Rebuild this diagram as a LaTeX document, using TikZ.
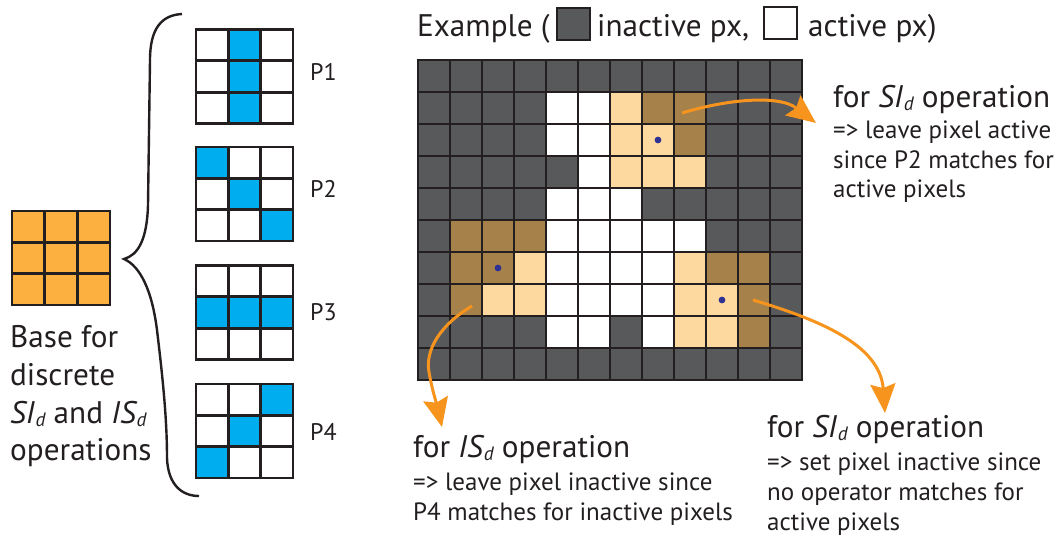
\documentclass[tikz,border=0pt]{standalone}
\usepackage{fontspec}
\setmainfont{PT Sans}
\usetikzlibrary{arrows.meta}

\definecolor{ink}{HTML}{231F20}
\definecolor{cD}{HTML}{58595B}
\definecolor{cW}{HTML}{FFFFFF}
\definecolor{cB}{HTML}{A6824A}
\definecolor{cL}{HTML}{FDD9A0}
\definecolor{baseor}{HTML}{FBB040}
\definecolor{patblue}{HTML}{00AEEF}
\definecolor{arrowor}{HTML}{F7941D}
\definecolor{dotblue}{HTML}{2E3192}

% italic operator name with a small lowered italic index
\newcommand\opsym[2]{\textit{#1\kern0.03em\raisebox{-0.12em}{\scalebox{0.62}{#2}}}}

\tikzset{
  gridline/.style={draw=ink, line width=2.8pt},
  bigtext/.style={anchor=base west, inner sep=0pt, font=\fontsize{31.2}{38}\selectfont, text=ink},
  smalltext/.style={anchor=base west, inner sep=0pt, font=\fontsize{25}{30}\selectfont, text=ink},
  plabel/.style={anchor=base west, inner sep=0pt, font=\fontsize{24}{30}\selectfont, text=ink},
  flow/.style={draw=arrowor, line width=3pt, -{Stealth[length=29pt,width=25pt,inset=4pt]}},
  pivot/.style={fill=dotblue},
  bracestroke/.style={draw=ink, line width=2.4pt},
}

% 3x3 pattern: #1 = top edge, #2 = blue cells as col/row
\newcommand\patgrid[2]{%
  \foreach \pc/\pr in {#2}
    \fill[patblue] (196+32.33*\pc, #1+31.33*\pr) rectangle ++(32.33,31.33);
  \foreach \pi in {1,2} {
    \draw[gridline] (196+32.33*\pi, #1) -- ++(0,94);
    \draw[gridline] (196, #1+31.33*\pi) -- ++(97,0);
  }
  \draw[gridline] (196,#1) rectangle ++(97,94);
}

\begin{document}
\begin{tikzpicture}[x=1pt,y=-1pt]
\fill[white] (0,0) rectangle (1062,539);
\useasboundingbox (0,0) rectangle (1062,539);

% ---- base 3x3 window ----
\fill[baseor] (12,211) rectangle (110,305);
\foreach \i in {1,2} {
  \draw[gridline] (12+32.67*\i,211) -- (12+32.67*\i,305);
  \draw[gridline] (12,211+31.33*\i) -- (110,211+31.33*\i);
}
\draw[gridline] (12,211) rectangle (110,305);

\node[bigtext] (base1) at (10,347) {Base for};
\node[bigtext] (base2) at (10,385) {discrete};
\node[bigtext] (base3) at (10,423) {\opsym{SI}{d} and \opsym{IS}{d}};
\node[bigtext] (base4) at (10,460) {operations};

% ---- brace ----
\draw[bracestroke] (182,14) .. controls (162,15) and (150,28) .. (150,60)
  -- (148,205) .. controls (147,240) and (138,255) .. (124,259)
  .. controls (140,266) and (152,290) .. (157,330)
  .. controls (163,380) and (167,420) .. (167,458)
  .. controls (168,485) and (182,496) .. (199,496);

% ---- the four patterns ----
\patgrid{29.5}{1/0,1/1,1/2}
\patgrid{147}{0/0,1/1,2/2}
\patgrid{265.5}{0/1,1/1,2/1}
\patgrid{384}{2/0,1/1,0/2}
\node[plabel] (p1) at (310,80) {P1};
\node[plabel] (p2) at (310,197) {P2};
\node[plabel] (p3) at (310,320) {P3};
\node[plabel] (p4) at (310,440) {P4};

% ---- legend line ----
\node[bigtext] (ex1) at (417,36) {Example (};
\draw[gridline, fill=cD] (557,8) rectangle (590,40);
\node[bigtext] (ex2) at (597,36) {inactive px,};
\draw[gridline, fill=white] (764,7) rectangle (797,39);
\node[bigtext] (ex3) at (808,36) {active px)};

% ---- example image ----
\foreach \row [count=\r from 0] in {
  {D,D,D,D,D,D,D,D,D,D,D,D},
  {D,D,D,D,W,W,L,B,B,D,D,D},
  {D,D,D,D,W,W,L,L,B,D,D,D},
  {D,D,D,D,D,W,L,L,L,D,D,D},
  {D,D,D,D,W,W,W,D,D,D,D,D},
  {D,B,B,B,W,W,W,W,W,D,D,D},
  {D,B,B,L,W,W,W,W,L,B,B,D},
  {D,B,L,L,W,W,W,W,L,L,B,D},
  {D,D,D,D,W,W,D,W,L,L,B,D},
  {D,D,D,D,D,D,D,D,D,D,D,D}} {
  \foreach \k [count=\c from 0] in \row
    \fill[fill=c\k] (418+32*\c, 60+32*\r) rectangle ++(32,32);
}
\foreach \i in {1,...,11}
  \draw[gridline] (418+32*\i,60) -- (418+32*\i,380);
\foreach \j in {1,...,9}
  \draw[gridline] (418,60+32*\j) -- (802,60+32*\j);
\draw[gridline] (418,60) rectangle (802,380);

% centre pixels of the three windows
\fill[pivot] (658,140) circle (3.4);
\fill[pivot] (498,268) circle (3.4);
\fill[pivot] (722,300) circle (3.4);

% ---- annotations ----
\coordinate (srcA) at (682,113);
\coordinate (tipA) at (816,123);
\coordinate (srcB) at (472,306);
\coordinate (tipB) at (442,427);
\coordinate (srcC) at (753,300);
\coordinate (tipC) at (885,413);

\draw[flow] (srcA) .. controls (725,100) and (778,94) .. (tipA);
\draw[flow] (srcB) .. controls (440,325) and (425,350) .. (429,372)
  .. controls (432,390) and (437,405) .. (tipB);
\draw[flow] (srcC) .. controls (820,320) and (880,345) .. (tipC);

\node[bigtext] (na1) at (833,107) {for \opsym{SI}{d} operation};
\node[smalltext] (na2) at (833,138) {=> leave pixel active};
\node[smalltext] (na3) at (833,168) {since P2 matches for};
\node[smalltext] (na4) at (833,197) {active pixels};

\node[bigtext] (nb1) at (413,457) {for \opsym{IS}{d} operation};
\node[smalltext] (nb2) at (413,490) {=> leave pixel inactive since};
\node[smalltext] (nb3) at (413,520) {P4 matches for inactive pixels};

\node[bigtext] (nc1) at (767,437) {for \opsym{SI}{d} operation};
\node[smalltext] (nc2) at (767,470) {=> set pixel inactive since};
\node[smalltext] (nc3) at (767,500) {no operator matches for};
\node[smalltext] (nc4) at (767,530) {active pixels};
\end{tikzpicture}
\end{document}
